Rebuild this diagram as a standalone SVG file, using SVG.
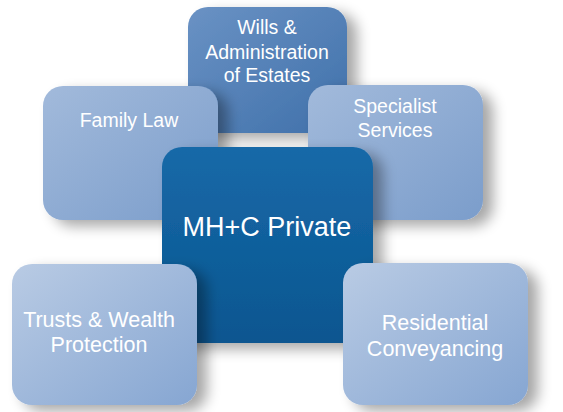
<svg xmlns="http://www.w3.org/2000/svg" width="563" height="412" viewBox="0 0 563 412">
<defs>
<linearGradient id="gLight" x1="0" y1="0" x2="1" y2="1">
<stop offset="0" stop-color="#b9cbe4"/>
<stop offset="1" stop-color="#86a6d2"/>
</linearGradient>
<linearGradient id="gMid" x1="0" y1="0" x2="1" y2="1">
<stop offset="0" stop-color="#a2badb"/>
<stop offset="1" stop-color="#7b9dcb"/>
</linearGradient>
<linearGradient id="gWills" x1="0" y1="0" x2="1" y2="1">
<stop offset="0" stop-color="#6a92c4"/>
<stop offset="1" stop-color="#3f70aa"/>
</linearGradient>
<linearGradient id="gCenter" x1="0" y1="0" x2="0" y2="1">
<stop offset="0" stop-color="#1769a8"/>
<stop offset="1" stop-color="#0a5690"/>
</linearGradient>
<filter id="sh" x="-20%" y="-20%" width="150%" height="150%">
<feGaussianBlur in="SourceAlpha" stdDeviation="7"/>
<feOffset dx="10" dy="6" result="b"/>
<feComponentTransfer><feFuncA type="linear" slope="0.35"/></feComponentTransfer>
<feMerge><feMergeNode/><feMergeNode in="SourceGraphic"/></feMerge>
</filter>
<style>
text{font-family:"Liberation Sans",Arial,sans-serif;fill:#ffffff;text-anchor:middle}
.s{font-size:19.5px}
.m{font-size:21.5px}
.l{font-size:27px}
</style>
</defs>
<rect width="563" height="412" fill="#ffffff"/>
<g id="connectors"/>
<g id="wills">
<rect x="188" y="7" width="159" height="126" rx="20" fill="url(#gWills)" filter="url(#sh)"/>
<text class="s" x="267" y="34">Wills &amp;</text>
<text class="s" x="267" y="59">Administration</text>
<text class="s" x="267" y="82">of Estates</text>
</g>
<g id="family">
<rect x="43" y="86" width="175" height="134" rx="20" fill="url(#gMid)" filter="url(#sh)"/>
<text class="s" x="129" y="127">Family Law</text>
</g>
<g id="specialist">
<rect x="308" y="85" width="175" height="135" rx="20" fill="url(#gMid)" filter="url(#sh)"/>
<text class="s" x="395" y="113">Specialist</text>
<text class="s" x="395" y="137">Services</text>
</g>
<g id="center">
<rect x="162" y="147" width="211" height="196" rx="20" fill="url(#gCenter)" filter="url(#sh)"/>
<text class="l" x="267" y="236">MH+C Private</text>
</g>
<g id="trusts">
<rect x="12" y="264" width="185" height="141" rx="20" fill="url(#gLight)" filter="url(#sh)"/>
<text class="m" x="99" y="327">Trusts &amp; Wealth</text>
<text class="m" x="99" y="352">Protection</text>
</g>
<g id="residential">
<rect x="343" y="263" width="185" height="142" rx="20" fill="url(#gLight)" filter="url(#sh)"/>
<text class="m" x="435" y="330">Residential</text>
<text class="m" x="435" y="356">Conveyancing</text>
</g>
</svg>
